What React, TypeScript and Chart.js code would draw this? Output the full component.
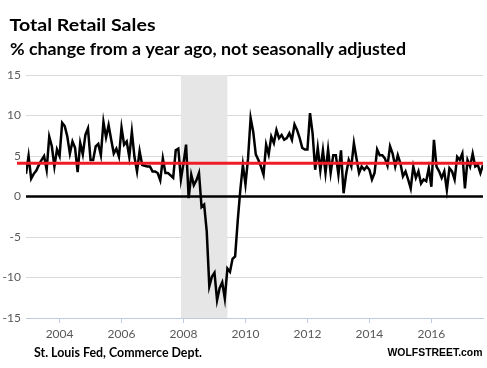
import React, { useEffect, useRef } from "react";
import { Chart, registerables } from "chart.js";

Chart.register(...registerables);

// ---- data ----
const firstYear = 2002;
const firstMonth = 12; // first observation: Dec 2002
const retailSalesYoY: number[] = [
  2.8,
  5.0, 2.2, 2.8, 3.2, 3.9, 4.5, 5.0, 3.3, 7.4, 6.2, 3.7, 5.8,
  5.0, 9.1, 8.7, 7.4, 5.3, 6.8, 6.0, 3.0, 6.6, 5.2, 7.6, 8.4,
  4.5, 4.5, 6.2, 6.5, 5.1, 9.2, 7.3, 8.8, 7.0, 5.3, 5.9, 4.9,
  8.5, 6.4, 6.8, 4.9, 8.0, 4.9, 3.1, 5.6, 3.9, 3.8, 3.7, 3.7,
  3.1, 3.1, 2.9, 2.0, 4.7, 2.9, 2.9, 2.6, 2.3, 5.7, 5.9, 2.1,
  4.1, 6.4, -0.2, 2.7, 1.4, 2.0, 2.9, -1.3, -1.0, -4.3, -11.1, -9.9,
  -9.4, -12.8, -11.3, -10.6, -12.6, -8.9, -9.3, -7.7, -7.4, -3.0, 0.8, 3.9,
  1.5, 4.7, 9.7, 8.0, 5.2, 4.5, 3.7, 2.7, 6.4, 5.2, 7.4, 6.6,
  8.2, 7.2, 7.6, 7.0, 7.2, 7.8, 7.0, 8.9, 8.2, 7.2, 6.0, 5.8,
  5.8, 10.3, 7.8, 3.3, 6.0, 3.2, 5.7, 2.9, 5.8, 2.9, 5.1, 5.1,
  2.7, 5.7, 0.4, 2.8, 4.5, 3.7, 6.6, 4.7, 2.9, 3.7, 3.3, 3.7,
  3.3, 2.1, 2.9, 5.8, 5.1, 5.1, 4.7, 3.8, 6.2, 5.3, 3.7, 5.1,
  4.1, 2.5, 3.1, 2.1, 1.0, 3.7, 2.3, 3.1, 1.6, 2.1, 1.9, 3.5,
  1.2, 7.0, 3.7, 3.1, 2.3, 3.1, 0.8, 3.5, 3.1, 2.1, 4.9, 4.5,
  5.3, 1.0, 4.5, 3.7, 5.3, 3.7, 3.9, 2.9, 3.9,
];
const averageGrowth = 4.1;
const recessionStart = [2007, 12]; // Dec 2007
const recessionEnd = [2009, 6]; // Jun 2009
const yTickValues = [-15, -10, -5, 0, 5, 10, 15];
const xTickYears = [2004, 2006, 2008, 2010, 2012, 2014, 2016];
const titleText = "Total Retail Sales";
const subtitleText = "% change from a year ago, not seasonally adjusted";
const sourceText = "St. Louis Fed, Commerce Dept.";
const brandText = "WOLFSTREET.com";

const ym = (y: number, m: number) => y + (m - 1) / 12;
const points = retailSalesYoY.map((v, i) => ({
  x: ym(firstYear, firstMonth) + i / 12,
  y: v,
}));

function fittedText(
  ctx: CanvasRenderingContext2D,
  text: string,
  x: number,
  y: number,
  font: string,
  width: number,
  align: "left" | "right" = "left"
) {
  ctx.save();
  ctx.font = font;
  ctx.fillStyle = "#000";
  ctx.textBaseline = "alphabetic";
  ctx.textAlign = "left";
  const w = ctx.measureText(text).width;
  const s = width / w;
  ctx.translate(align === "right" ? x - width : x, y);
  ctx.scale(s, 1);
  ctx.fillText(text, 0, 0);
  ctx.restore();
}

const decorPlugin = {
  id: "decor",
  beforeDatasetsDraw(chart: any) {
    const { ctx, chartArea, scales } = chart;
    const x = scales.x;
    const y = scales.y;
    const x0 = x.getPixelForValue(ym(recessionStart[0], recessionStart[1]));
    const x1 = x.getPixelForValue(ym(recessionEnd[0], recessionEnd[1]));
    ctx.save();
    ctx.fillStyle = "#e6e6e6";
    ctx.fillRect(x0, chartArea.top, x1 - x0, chartArea.bottom - chartArea.top);
    const y0 = y.getPixelForValue(0);
    ctx.strokeStyle = "#000";
    ctx.lineWidth = 2.5;
    ctx.beginPath();
    ctx.moveTo(chartArea.left, y0);
    ctx.lineTo(chartArea.right, y0);
    ctx.stroke();
    ctx.restore();
  },
  afterDatasetsDraw(chart: any) {
    const { ctx, chartArea, scales } = chart;
    const yr = scales.y.getPixelForValue(averageGrowth);
    ctx.save();
    ctx.strokeStyle = "#ee1c25";
    ctx.lineWidth = 3;
    ctx.beginPath();
    ctx.moveTo(chartArea.left - 9, yr);
    ctx.lineTo(chartArea.right, yr);
    ctx.stroke();
    ctx.restore();
  },
  afterDraw(chart: any) {
    const { ctx } = chart;
    fittedText(ctx, titleText, 9.5, 30.5, "bold 17px Lato", 146);
    fittedText(ctx, subtitleText, 10, 55, "bold 17px Lato", 396);
    fittedText(ctx, sourceText, 34, 356.5, "bold 13px Lato", 168);
    fittedText(ctx, brandText, 482.5, 356, "bold 11.5px 'Liberation Sans'", 95, "right");
  },
};

export default function App() {
  const ref = useRef<HTMLCanvasElement>(null);
  useEffect(() => {
    document.body.style.margin = "0";
    const canvas = ref.current!;
    const chart = new Chart(canvas, {
      type: "line",
      data: {
        datasets: [
          {
            data: points,
            borderColor: "#000",
            borderWidth: 2.5,
            pointRadius: 0,
            tension: 0,
            fill: false,
          },
        ],
      },
      options: {
        animation: false,
        responsive: false,
        devicePixelRatio: 1,
        layout: { padding: { top: 75, right: 4, left: 0, bottom: 0 } },
        plugins: {
          legend: { display: false },
          tooltip: { enabled: false },
        },
        scales: {
          x: {
            type: "linear",
            min: points[0].x,
            max: points[points.length - 1].x,
            afterBuildTicks: (s: any) => {
              s.ticks = xTickYears.map((v) => ({ value: v }));
            },
            afterFit: (s: any) => {
              s.height = 50;
            },
            ticks: {
              autoSkip: false,
              maxRotation: 0,
              padding: 4,
              color: "#595959",
              font: { family: "Lato", size: 12 },
              callback: (v: any) => String(v),
            },
            grid: {
              drawOnChartArea: false,
              drawTicks: true,
              tickLength: 5,
              color: "#bfcbe0",
            },
            border: { display: true, color: "#bfcbe0", width: 1 },
          },
          y: {
            min: -15,
            max: 15,
            afterBuildTicks: (s: any) => {
              s.ticks = yTickValues.map((v) => ({ value: v }));
            },
            afterFit: (s: any) => {
              s.width = 26;
            },
            ticks: {
              padding: 5,
              color: "#595959",
              font: { family: "Lato", size: 12 },
              callback: (v: any) => String(v),
            },
            grid: {
              drawTicks: false,
              color: (c: any) =>
                c.tick && (c.tick.value === 0 || c.tick.value === -15)
                  ? "rgba(0,0,0,0)"
                  : "#d9d9d9",
            },
            border: { display: false },
          },
        },
      },
      plugins: [decorPlugin],
    });
    return () => chart.destroy();
  }, []);
  return (
    <div style={{ position: "absolute", left: 0, top: 0, width: 487, height: 368, background: "#fff" }}>
      <canvas ref={ref} width={487} height={368} style={{ display: "block", width: 487, height: 368 }} />
    </div>
  );
}
